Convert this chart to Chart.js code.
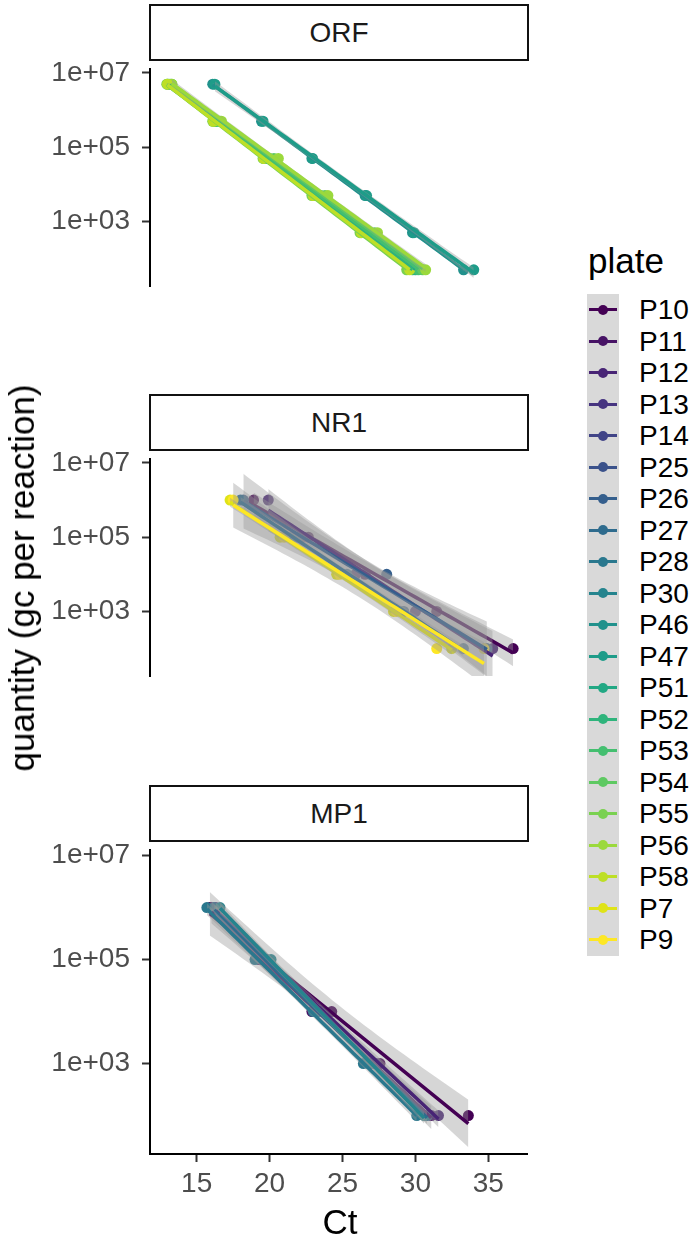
<!DOCTYPE html>
<html>
<head>
<meta charset="utf-8">
<script src="https://cdn.jsdelivr.net/npm/chart.js@4.4.1/dist/chart.umd.min.js"></script>
<style>
  body { margin: 0; background: #fff; width: 693px; height: 1241px; position: relative; overflow: hidden;
         font-family: "Liberation Sans", Arial, Helvetica, sans-serif; }
  canvas { position: absolute; left: 0; }
  .strip { position: absolute; left: 149px; width: 380px; height: 57px; box-sizing: border-box;
           border: 2px solid #111; background: #fff; text-align: center; font-size: 28px;
           line-height: 53px; color: #1a1a1a; }
  .title { position: absolute; font-size: 35px; color: #000; white-space: nowrap; }
  #legend .lab { position: absolute; left: 639px; font-size: 28px; color: #000; }
</style>
</head>
<body>
<div class="strip" style="top:4px">ORF</div>
<div class="strip" style="top:394px">NR1</div>
<div class="strip" style="top:785px">MP1</div>
<canvas id="orfChart" width="537" height="338" style="top:40px"></canvas>
<canvas id="nr1Chart" width="537" height="338" style="top:430px"></canvas>
<canvas id="mp1Chart" width="537" height="420" style="top:821px"></canvas>
<div class="title" style="left:22px;top:578px;transform:translate(-50%,-50%) rotate(-90deg)">quantity (gc per reaction)</div>
<div class="title" style="left:340px;top:1222px;transform:translate(-50%,-50%)">Ct</div>
<div id="legend"></div>

<script>
// plates, legend order (alphabetical as in R)
const plates = ["P10", "P11", "P12", "P13", "P14", "P25", "P26", "P27", "P28", "P30",
  "P46", "P47", "P51", "P52", "P53", "P54", "P55", "P56", "P58", "P7", "P9"];
// viridis, 21 levels
const plateColors = ["#440154", "#471365", "#482475", "#463480", "#414487", "#3B528B", "#355F8D",
  "#2F6C8E", "#2A788E", "#25848E", "#21918C", "#1E9C89", "#22A884", "#2FB47C", "#44BF70",
  "#5EC962", "#7AD151", "#9BD93C", "#BDDF26", "#DFE318", "#FDE725"];

const yTicks = [1e3, 1e5, 1e7];
const xTicks = [15, 20, 25, 30, 35];

// ORF standards
const orfQty = [5e6, 5e5, 5e4, 5e3, 5e2, 50];
const orfPlates = ["P46", "P47", "P51", "P52", "P53", "P54", "P55", "P56", "P58"];
const orfCt = [
  [16.1, 19.45, 22.9, 26.55, 29.8, 33.3],
  [16.25, 19.55, 22.95, 26.65, 29.9, 34.0],
  [13.1, 16.3, 19.8, 23.3, 26.7, 30.0],
  [13.0, 16.2, 19.6, 23.1, 26.5, 29.8],
  [13.2, 16.4, 20.0, 23.5, 26.9, 30.2],
  [13.3, 16.6, 20.3, 23.8, 27.2, 30.5],
  [12.95, 16.1, 19.55, 22.9, 26.2, 29.4],
  [13.3, 16.7, 20.6, 24.0, 27.4, 30.7],
  [13.0, 16.15, 19.6, 23.0, 26.3, 29.6],
];

// NR1 standards
const nr1Qty = [1e6, 1e5, 1e4, 1e3, 1e2];
const nr1Plates = ["P10", "P12", "P26", "P27", "P7", "P9", "P9"];
const nr1Ct = [
  [18.9, 22.66, 26.55, 31.46, 36.7],
  [19.91, 22.3, 25.9, 30.0, 35.3],
  [18.2, 21.9, 28.03, 29.2, 34.9],
  [18.0, 21.5, 25.3, 29.1, 33.29],
  [17.29, 20.72, 24.6, 28.5, 32.49],
  [17.5, 21.0, 24.8, 28.7, 31.46],
  [null, null, null, null, 34.7],
];

// MP1 standards
const mp1Qty = [1e6, 1e5, 1e4, 1e3, 1e2];
const mp1Plates = ["P10", "P11", "P12", "P27", "P28", "P30"];
const mp1Ct = [
  [15.9, 19.5, 24.26, 27.57, 33.63],
  [16.0, 19.3, 22.9, 27.2, 31.1],
  [16.3, 19.8, 23.6, 27.3, 31.58],
  [16.2, 19.6, 23.2, 26.9, 30.8],
  [15.7, 19.0, 23.0, 26.43, 30.09],
  [16.6, 20.1, 23.4, 26.8, 30.6],
];

Chart.defaults.font.family = "'Liberation Sans', Arial, Helvetica, sans-serif";

const T975 = [0, 12.706, 4.303, 3.182, 2.776, 2.571, 2.447, 2.365, 2.306, 2.262, 2.228];

// lm(log10(qty) ~ Ct) with 95% band, like geom_smooth(method = "lm")
function lmFit(pts) {
  const n = pts.length;
  const xs = pts.map((p) => p.x);
  const ys = pts.map((p) => Math.log10(p.y));
  const xbar = xs.reduce((a, b) => a + b, 0) / n;
  const ybar = ys.reduce((a, b) => a + b, 0) / n;
  let sxx = 0, sxy = 0;
  xs.forEach((x, i) => { sxx += (x - xbar) ** 2; sxy += (x - xbar) * (ys[i] - ybar); });
  const b = sxy / sxx;
  const a = ybar - b * xbar;
  let sse = 0;
  xs.forEach((x, i) => { sse += (ys[i] - a - b * x) ** 2; });
  const s = Math.sqrt(sse / Math.max(n - 2, 1));
  const t = T975[n - 2] || 2.0;
  const lo = Math.min(...xs), hi = Math.max(...xs);
  const line = [], upper = [], lower = [];
  for (let k = 0; k <= 40; k++) {
    const x = lo + ((hi - lo) * k) / 40;
    const yh = a + b * x;
    const se = s * Math.sqrt(1 / n + (x - xbar) ** 2 / sxx);
    line.push({ x, y: 10 ** yh });
    upper.push({ x, y: 10 ** (yh + t * se) });
    lower.push({ x, y: 10 ** (yh - t * se) });
  }
  return { line, upper, lower };
}

function facetDatasets(qty, rowPlates, ctRows) {
  const groups = {};
  rowPlates.forEach((p, i) => {
    ctRows[i].forEach((ct, j) => {
      if (ct == null) return;
      (groups[p] = groups[p] || []).push({ x: ct, y: qty[j] });
    });
  });
  const present = plates.filter((p) => groups[p]).reverse(); // first dataset = top-most
  const ds = [];
  present.forEach((p) => {
    const col = plateColors[plates.indexOf(p)];
    const f = lmFit(groups[p]);
    ds.push({ data: f.line, borderColor: col, borderWidth: 3.5, pointRadius: 0, fill: false });
    ds.push({ data: f.upper, borderColor: "transparent", pointRadius: 0,
      backgroundColor: "rgba(153,153,153,0.4)", fill: "+1" });
    ds.push({ data: f.lower, borderColor: "transparent", pointRadius: 0, fill: false });
  });
  present.forEach((p) => {
    const col = plateColors[plates.indexOf(p)];
    ds.push({ data: groups[p], showLine: false, pointRadius: 5.5, pointBackgroundColor: col,
      pointBorderWidth: 0, borderColor: col });
  });
  return ds;
}

function makeFacet(id, datasets, showX) {
  return new Chart(document.getElementById(id), {
    type: "line",
    data: { datasets },
    options: {
      responsive: false,
      animation: false,
      events: [],
      devicePixelRatio: 1,
      layout: { padding: { top: 20, bottom: showX ? 0 : 5, left: 0, right: 10 } },
      elements: { line: { tension: 0 } },
      plugins: { legend: { display: false }, tooltip: { enabled: false } },
      scales: {
        x: {
          type: "linear",
          display: showX,
          min: 11.8,
          max: 37.65,
          afterBuildTicks: (s) => { s.ticks = xTicks.map((v) => ({ value: v })); },
          afterFit: (s) => { s.height = 87; },
          border: { display: true, color: "#000", width: 2 },
          grid: { drawOnChartArea: false, drawTicks: true, tickLength: 8, tickColor: "#333", tickWidth: 2 },
          ticks: { color: "#4D4D4D", font: { size: 28 }, padding: 5, maxRotation: 0 },
        },
        y: {
          type: "logarithmic",
          min: 10 ** 1.262,
          max: 10 ** 7.112,
          afterBuildTicks: (s) => { s.ticks = yTicks.map((v) => ({ value: v })); },
          afterFit: (s) => { s.width = 150; },
          border: { display: true, color: "#000", width: 2 },
          grid: { drawOnChartArea: false, drawTicks: true, tickLength: 8, tickColor: "#333", tickWidth: 2 },
          ticks: {
            color: "#4D4D4D",
            font: { size: 28 },
            padding: 12,
            callback: (v) => "1e+" + String(Math.round(Math.log10(v))).padStart(2, "0"),
          },
        },
      },
    },
  });
}

makeFacet("orfChart", facetDatasets(orfQty, orfPlates, orfCt), false);
makeFacet("nr1Chart", facetDatasets(nr1Qty, nr1Plates, nr1Ct), false);
makeFacet("mp1Chart", facetDatasets(mp1Qty, mp1Plates, mp1Ct), true);

// legend
const legend = document.getElementById("legend");
const ROW = 31.5, TOP = 294;
let html = '<div class="title" style="left:588px;top:243px;line-height:35px">plate</div>';
html += `<div style="position:absolute;left:587px;top:${TOP}px;width:32px;height:${ROW * plates.length}px;background:#D9D9D9"></div>`;
plates.forEach((p, i) => {
  const cy = TOP + ROW * i + ROW / 2;
  const col = plateColors[i];
  html += `<div style="position:absolute;left:589px;top:${cy - 1.5}px;width:28px;height:3px;background:${col}"></div>`;
  html += `<div style="position:absolute;left:${603 - 5}px;top:${cy - 5}px;width:10px;height:10px;border-radius:50%;background:${col}"></div>`;
  html += `<div class="lab" style="top:${cy - ROW / 2}px;line-height:${ROW}px">${p}</div>`;
});
legend.innerHTML = html;
</script>
</body>
</html>
